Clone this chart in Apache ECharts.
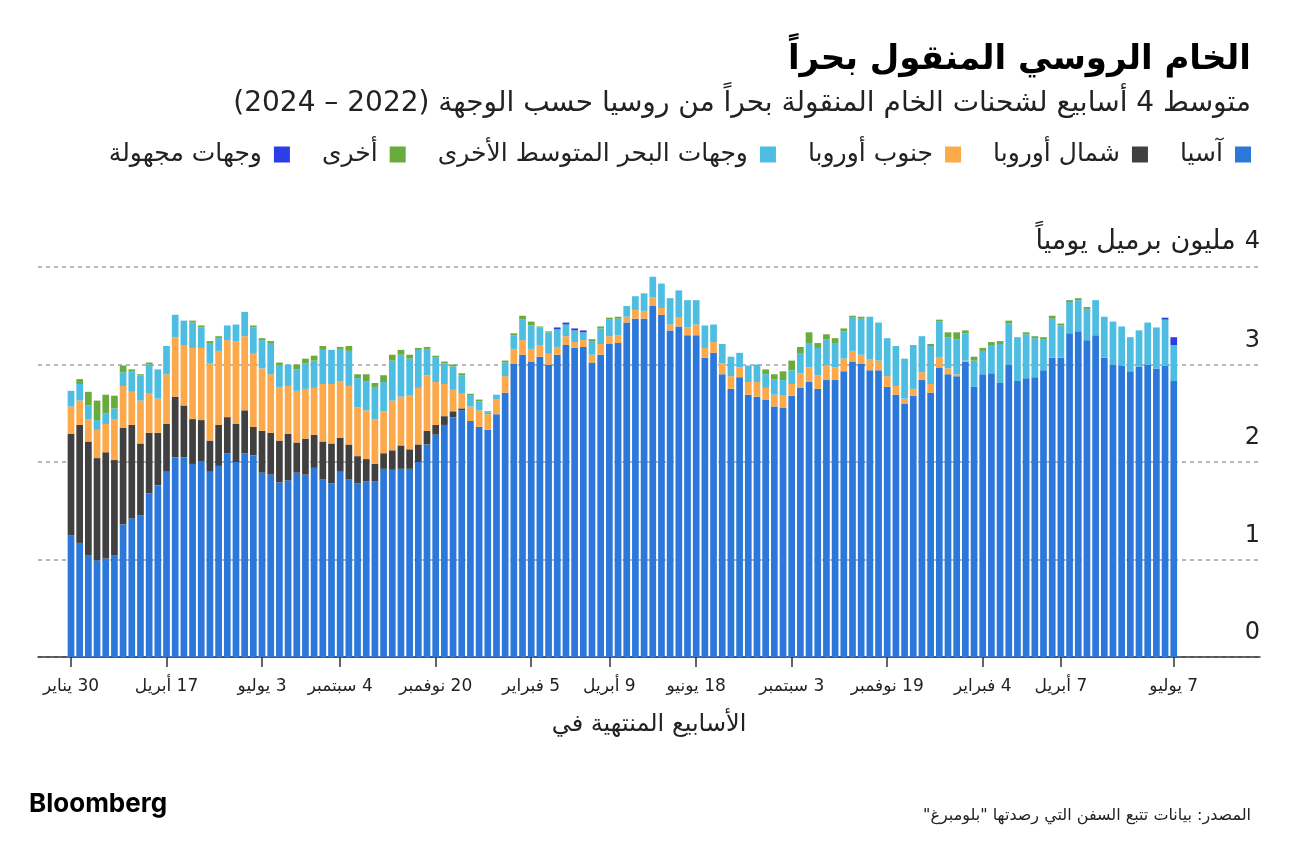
<!DOCTYPE html>
<html dir="rtl">
<head>
<meta charset="utf-8">
<script src="https://cdn.jsdelivr.net/npm/echarts@6/dist/echarts.min.js"></script>
<style>
html,body{margin:0;padding:0;background:#fff;}
#c{width:1296px;height:846px;direction:rtl;}
</style>
</head>
<body>
<div id="c"></div>
<script>
// Tick positions (week index, weeks ending Sundays from 30 Jan 2022) and their labels
const tickIndex = [0, 11, 22, 31, 42, 53, 62, 72, 83, 94, 105, 114, 127];
const tickLabels = ['30 يناير','17 أبريل','3 يوليو','4 سبتمبر','20 نوفمبر','5 فبراير','9 أبريل','18 يونيو','3 سبتمبر','19 نوفمبر','4 فبراير','7 أبريل','7 يوليو'];

const seriesNames = ['آسيا','شمال أوروبا','جنوب أوروبا','وجهات البحر المتوسط الأخرى','أخرى','وجهات مجهولة'];

// million barrels per day, 4-week average, weeks 0..127
const asia = [1.25,1.17,1.04,0.99,1.01,1.04,1.36,1.42,1.45,1.68,1.76,1.90,2.05,2.05,1.98,2.01,1.90,1.96,2.09,2.00,
2.09,2.07,1.89,1.87,1.79,1.81,1.89,1.87,1.94,1.82,1.78,1.90,1.82,1.78,1.80,1.80,1.93,1.92,1.93,1.93,
2.00,2.18,2.28,2.38,2.46,2.53,2.42,2.36,2.33,2.49,2.71,3.01,3.10,3.03,3.08,3.00,3.10,3.20,3.17,3.18,
3.02,3.10,3.21,3.22,3.43,3.47,3.47,3.60,3.51,3.35,3.39,3.30,3.30,3.07,3.12,2.90,2.75,2.87,2.69,2.67,
2.64,2.57,2.56,2.68,2.76,2.82,2.75,2.84,2.84,2.93,3.03,3.01,2.94,2.94,2.77,2.69,2.60,2.68,2.84,2.71,
2.97,2.90,2.88,3.03,2.77,2.90,2.91,2.81,3.00,2.83,2.86,2.87,2.94,3.07,3.07,3.32,3.34,3.25,3.30,3.07,
3.00,2.99,2.93,2.98,3.00,2.96,2.99,2.83];

const northEurope = [1.04,1.21,1.17,1.05,1.09,0.98,0.99,0.96,0.74,0.62,0.54,0.49,0.62,0.53,0.46,0.42,0.32,0.42,0.37,0.39,
0.44,0.29,0.43,0.43,0.43,0.48,0.31,0.37,0.34,0.39,0.41,0.35,0.36,0.28,0.23,0.18,0.16,0.20,0.24,0.20,
0.18,0.14,0.10,0.09,0.06,0.02,0,0,0,0,0,0,0,0,0,0,0,0,0,0,
0,0,0,0,0,0,0,0,0,0,0,0,0,0,0,0,0,0,0,0,
0,0,0,0,0,0,0,0,0,0,0,0,0,0,0,0,0,0,0,0,
0,0,0,0,0,0,0,0,0,0,0,0,0,0,0,0,0,0,0,0,
0,0,0,0,0,0,0,0];

const southEurope = [0.28,0.25,0.23,0.29,0.29,0.42,0.43,0.34,0.44,0.40,0.35,0.51,0.61,0.62,0.73,0.74,0.79,0.76,0.79,0.85,
0.76,0.75,0.64,0.60,0.55,0.49,0.53,0.51,0.48,0.59,0.61,0.58,0.60,0.50,0.50,0.46,0.43,0.51,0.50,0.55,
0.58,0.57,0.44,0.33,0.22,0.15,0.15,0.17,0.16,0.15,0.17,0.15,0.15,0.13,0.12,0.11,0.08,0.09,0.06,0.07,
0.08,0.11,0.08,0.08,0.06,0.09,0.08,0.09,0.07,0.06,0.09,0.08,0.11,0.10,0.11,0.11,0.13,0.10,0.13,0.15,
0.12,0.12,0.12,0.12,0.15,0.15,0.14,0.15,0.13,0.13,0.11,0.09,0.11,0.10,0.11,0.09,0.05,0.07,0.08,0.09,
0.10,0.06,0.02,0.01,0,0,0,0,0,0,0,0,0,0,0,0,0,0,0,0,
0,0,0,0,0,0,0,0];

const otherMed = [0.16,0.17,0.14,0.10,0.11,0.11,0.14,0.21,0.26,0.30,0.30,0.29,0.23,0.25,0.26,0.21,0.21,0.13,0.15,0.17,
0.25,0.27,0.29,0.32,0.22,0.22,0.22,0.26,0.28,0.35,0.35,0.33,0.36,0.30,0.30,0.33,0.30,0.41,0.43,0.38,
0.39,0.27,0.25,0.21,0.24,0.19,0.11,0.09,0.02,0.05,0.14,0.14,0.21,0.24,0.18,0.22,0.18,0.12,0.12,0.08,
0.14,0.16,0.17,0.17,0.11,0.14,0.18,0.21,0.25,0.27,0.28,0.28,0.25,0.23,0.18,0.20,0.20,0.15,0.17,0.18,
0.14,0.16,0.16,0.14,0.20,0.25,0.28,0.27,0.25,0.28,0.34,0.37,0.44,0.39,0.39,0.41,0.41,0.45,0.37,0.39,
0.37,0.32,0.36,0.28,0.27,0.24,0.29,0.40,0.42,0.45,0.45,0.40,0.32,0.40,0.33,0.32,0.32,0.32,0.36,0.42,
0.44,0.40,0.35,0.37,0.43,0.42,0.47,0.37];

const other = [0,0.05,0.14,0.20,0.19,0.13,0.07,0.02,0.01,0.02,0,0,0,0,0.02,0.02,0.02,0.02,0,0,
0,0.02,0.02,0.02,0.03,0,0.05,0.05,0.05,0.04,0,0.02,0.05,0.04,0.07,0.04,0.07,0.06,0.05,0.04,
0.02,0.02,0.02,0.02,0.02,0.02,0.02,0.02,0.01,0,0.02,0.02,0.04,0.04,0.01,0.01,0,0,0,0,
0.02,0.02,0.02,0.02,0,0,0,0,0,0,0,0,0,0,0,0,0,0,0,0,
0.05,0.05,0.09,0.10,0.07,0.11,0.05,0.05,0.05,0.03,0.02,0.02,0,0,0,0,0,0,0,0.02,
0.02,0.05,0.07,0.03,0.04,0.03,0.03,0.03,0.03,0,0.02,0.02,0.02,0.03,0.02,0.02,0.02,0.02,0,0,
0,0,0,0,0,0,0,0];

const unknown = [0,0,0,0,0,0,0,0,0,0,0,0,0,0,0,0,0,0,0,0,
0,0,0,0,0,0,0,0,0,0,0,0,0,0,0,0,0,0,0,0,
0,0,0,0,0,0,0,0,0,0,0,0,0,0,0,0,0.02,0.02,0.02,0.02,
0,0,0,0,0,0,0,0,0,0,0,0,0,0,0,0,0,0,0,0,
0,0,0,0,0,0,0,0,0,0,0,0,0,0,0,0,0,0,0,0,
0,0,0,0,0,0,0,0,0,0,0,0,0,0,0,0,0,0,0,0,
0,0,0,0,0,0,0.02,0.08];

const colors = ['#2b78da','#404040','#fca94b','#4dbde1','#6aab3e','#2c3fe4'];
const AR = "'DejaVu Sans', sans-serif";

const allSeries = [asia, northEurope, southEurope, otherMed, other, unknown];
const weeks = asia.map(function (_, i) { return i; });
const isTick = function (idx) { return tickIndex.indexOf(idx) >= 0; };

const chart = echarts.init(document.getElementById('c'), null, {renderer:'canvas'});

chart.setOption({
  animation: false,
  backgroundColor: '#fff',
  title: [
    {text: 'الخام الروسي المنقول بحراً', right: 40, top: 38,
     textStyle: {fontFamily: AR, fontSize: 34, fontWeight: 'bold', color: '#000'}},
    {text: 'متوسط 4 أسابيع لشحنات الخام المنقولة بحراً من روسيا حسب الوجهة (2022 – 2024)', right: 40, top: 85,
     textStyle: {fontFamily: AR, fontSize: 28, fontWeight: 'normal', color: '#222'}},
    {text: 'Bloomberg', left: 24, top: 786,
     textStyle: {fontFamily: 'Inter, sans-serif', fontSize: 26, fontWeight: 'bold', color: '#000'}},
    {text: 'المصدر: بيانات تتبع السفن التي رصدتها "بلومبرغ"', right: 40, top: 803,
     textStyle: {fontFamily: AR, fontSize: 16, fontWeight: 'normal', color: '#222'}}
  ],
  legend: {
    data: seriesNames.slice().reverse(),
    right: 40, top: 137,
    align: 'right',
    itemWidth: 16, itemHeight: 16, itemGap: 32,
    icon: 'rect',
    textStyle: {fontFamily: AR, fontSize: 25, color: '#222', padding: [0, 7, 0, 0]},
    selectedMode: false
  },
  grid: [
    {left: 38, right: 36, top: 267, bottom: 189, containLabel: false},
    {left: 66.66, right: 117.9, top: 267, bottom: 189, containLabel: false}
  ],
  xAxis: [
    {
      gridIndex: 0, type: 'value', min: 0, max: 1,
      name: 'الأسابيع المنتهية في',
      nameLocation: 'middle', nameGap: 56,
      nameTextStyle: {fontFamily: AR, fontSize: 24, color: '#222'},
      axisLine: {show: true, lineStyle: {color: '#333', width: 1.5}},
      axisTick: {show: false}, axisLabel: {show: false}, splitLine: {show: false}
    },
    {
      gridIndex: 1, type: 'category', data: weeks,
      axisLine: {show: false},
      axisTick: {show: true, alignWithLabel: true, interval: isTick, length: 10,
        lineStyle: {color: '#333', width: 1.5}},
      axisLabel: {show: true, interval: isTick, margin: 21, fontFamily: AR, fontSize: 17, color: '#222',
        formatter: function (v, idx) { const k = tickIndex.indexOf(idx); return k >= 0 ? tickLabels[k] : ''; }},
      splitLine: {show: false}
    }
  ],
  yAxis: [
    {
      gridIndex: 0, type: 'value', min: 0, max: 4, interval: 1, position: 'right',
      axisLine: {show: false}, axisTick: {show: false},
      axisLabel: {inside: true, margin: 0, fontFamily: AR, fontSize: 24, color: '#222',
        verticalAlign: 'bottom', padding: [0, 0, 12, 0],
        formatter: function (v) { return v === 4 ? '{u|مليون برميل يومياً}{n|4}' : String(v); },
        rich: {u: {fontFamily: AR, fontSize: 27, color: '#222', padding: [0, 9, 0, 0]},
               n: {fontFamily: AR, fontSize: 24, color: '#222'}}},
      splitLine: {show: true, lineStyle: {color: '#a0a0a0', width: 1.5, type: [4, 4]}}
    },
    {
      gridIndex: 1, type: 'value', min: 0, max: 4, interval: 1,
      axisLine: {show: false}, axisTick: {show: false}, axisLabel: {show: false}, splitLine: {show: false}
    }
  ],
  series: allSeries.map(function (arr, s) {
    return {
      name: seriesNames[s], type: 'bar', stack: 'total',
      xAxisIndex: 1, yAxisIndex: 1,
      barWidth: 6.7,
      itemStyle: {color: colors[s]},
      data: arr
    };
  })
});
</script>
</body>
</html>
